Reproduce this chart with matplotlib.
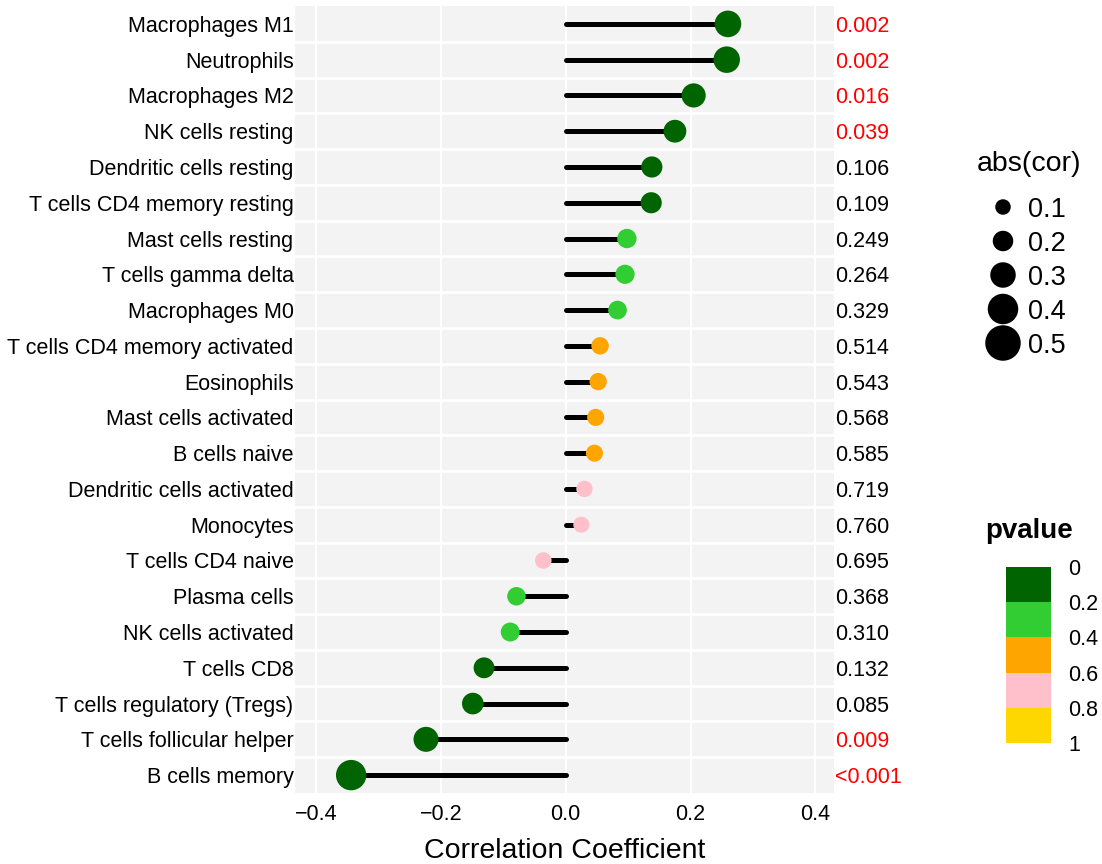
import numpy as np
import matplotlib
matplotlib.use("Agg")
import matplotlib.pyplot as plt
from matplotlib.transforms import blended_transform_factory

plt.rcParams['font.family'] = ['Liberation Sans', 'DejaVu Sans']

cells = ["Macrophages M1", "Neutrophils", "Macrophages M2", "NK cells resting",
         "Dendritic cells resting", "T cells CD4 memory resting", "Mast cells resting",
         "T cells gamma delta", "Macrophages M0", "T cells CD4 memory activated",
         "Eosinophils", "Mast cells activated", "B cells naive", "Dendritic cells activated",
         "Monocytes", "T cells CD4 naive", "Plasma cells", "NK cells activated",
         "T cells CD8", "T cells regulatory (Tregs)", "T cells follicular helper",
         "B cells memory"]
cor = [0.260, 0.258, 0.205, 0.175, 0.138, 0.137, 0.098, 0.095, 0.083, 0.055,
       0.052, 0.048, 0.046, 0.030, 0.025, -0.036, -0.079, -0.089, -0.131, -0.149,
       -0.224, -0.344]
pval = [0.002, 0.002, 0.016, 0.039, 0.106, 0.109, 0.249, 0.264, 0.329, 0.514,
        0.543, 0.568, 0.585, 0.719, 0.760, 0.695, 0.368, 0.310, 0.132, 0.085,
        0.009, 0.0005]

p_breaks = [0, 0.2, 0.4, 0.6, 0.8, 1]
p_colors = ["#006400", "#32CD32", "#FFA500", "#FFC0CB", "#FFD700"]
size_breaks = [0.1, 0.2, 0.3, 0.4, 0.5]


def pcolor(p):
    for i in range(len(p_colors)):
        if p < p_breaks[i + 1]:
            return p_colors[i]
    return p_colors[-1]


def dot_area(v, a, b):
    # diameter in px -> marker area in pt^2
    d = (a + b * abs(v)) * 0.72
    return d ** 2


def plabel(p):
    if p < 0.001:
        return "<0.001"
    return "%.3f" % p


W, H = 1102, 864
fig = plt.figure(figsize=(W / 100, H / 100), dpi=100)
ax = fig.add_axes([295 / W, 1 - 793 / H, (834 - 295) / W, (793 - 6) / H])

n = len(cells)
y = np.arange(n)[::-1]
cor = np.array(cor)

ax.set_facecolor("#F3F3F3")
for s in ax.spines.values():
    s.set_visible(False)
for t in [-0.4, -0.2, 0.0, 0.2, 0.4]:
    ax.axvline(t, color="white", lw=1.5, zorder=0.5)
for k in range(n - 1):
    ax.axhline(k + 0.5, color="white", lw=2.0, zorder=0.6)

ax.hlines(y, 0, cor, color="black", lw=3.6, capstyle="round", zorder=2)
ax.scatter(cor, y, s=[dot_area(c, 15, 44.6) for c in cor],
           c=[pcolor(p) for p in pval], edgecolors="none", zorder=3)

ax.set_xlim(-0.434, 0.430)
ax.set_ylim(-0.5, n - 0.5)
ax.set_xticks([-0.4, -0.2, 0.0, 0.2, 0.4])
ax.set_xticklabels(["\u22120.4", "\u22120.2", "0.0", "0.2", "0.4"])
ax.set_yticks(y)
ax.set_yticklabels(cells)
ax.tick_params(axis="both", length=0, labelsize=15.5, colors="black")
ax.tick_params(axis="y", pad=1)
ax.tick_params(axis="x", pad=8)
ax.set_xlabel("Correlation Coefficient", fontsize=20.5, labelpad=9)

# p-values printed beside each row
tr = blended_transform_factory(ax.transAxes, ax.transData)
for yi, p in zip(y, pval):
    ax.text(1.002, yi, plabel(p), transform=tr, ha="left", va="center_baseline",
            fontsize=15.5, color="red" if p < 0.05 else "black", clip_on=False)

# legends drawn on a pixel-space overlay
lg = fig.add_axes([0, 0, 1, 1])
lg.set_xlim(0, W)
lg.set_ylim(H, 0)
lg.axis("off")
lg.patch.set_alpha(0)

lg.text(977, 161, "abs(cor)", fontsize=20.5, ha="left", va="center_baseline")
for i, v in enumerate(size_breaks):
    yy = 207 + 34 * i
    lg.scatter(1003, yy, s=dot_area(v, 10.5, 50), c="black", edgecolors="none")
    lg.text(1028, yy, "%.1f" % v, fontsize=19.5, ha="left", va="center_baseline")

lg.text(985, 528, "pvalue", fontsize=20, fontweight="bold", ha="left", va="center_baseline")
for i, col in enumerate(p_colors):
    y0 = 567 + 35.2 * i
    lg.add_patch(plt.Rectangle((1006, y0), 45, 35.2, facecolor=col, edgecolor="none"))
for i, b in enumerate(p_breaks):
    lg.text(1068, 567 + 35.2 * i, "%g" % b, fontsize=15.5, ha="left", va="center_baseline")

fig.savefig("out.png", dpi=100)
